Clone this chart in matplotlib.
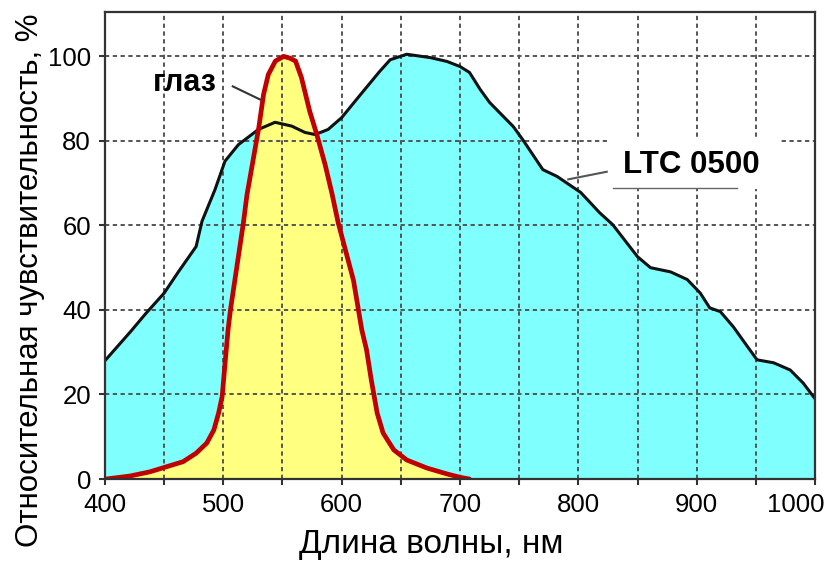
import numpy as np
import matplotlib.pyplot as plt
import matplotlib.transforms as mtransforms
from matplotlib.patches import Rectangle

plt.rcParams['font.family'] = ['Liberation Sans', 'DejaVu Sans']

# спектральная чувствительность камеры LTC 0500
wl_ltc = [400, 422, 434, 450, 462, 477, 482, 493, 501.4, 512.7, 529.6, 543.7, 557.8, 569, 577.5,
          588.5, 600, 614, 632, 641, 655, 675, 689, 700, 708, 717, 725, 745, 753, 770, 782,
          802, 818, 829, 850, 861, 878, 892, 903, 911, 920, 931, 943, 951, 965, 979,
          990, 1000]
ltc = [28, 35, 39, 44, 49, 55, 61, 68.5, 75.2, 79.1, 82.7, 84.4, 83.5, 82, 81.5,
       82.7, 85.5, 90.3, 96.4, 99.2, 100.5, 99.7, 98.8, 97.6, 96.2, 92.2, 89.1, 83.4, 80.3, 73.2, 71.6,
       67.8, 63, 60.2, 52.6, 50, 49, 47.2, 44, 40.5, 39.6, 36, 31.3, 28.2, 27.5, 25.8,
       22.7, 19]

# чувствительность глаза
wl_eye = [401, 421, 438, 452, 466, 477, 486, 492, 496, 499, 501.5, 503, 504, 506, 517,
          520, 525, 530, 534, 538, 544, 551, 556, 561, 566, 573, 579, 586, 592, 597,
          610, 617, 621, 625, 630, 635, 644, 655, 672, 689, 700, 708]
eye = [0, 0.7, 1.7, 2.9, 4.1, 6.1, 8.5, 11.6, 15.6, 19.5, 27.5, 32.2, 35.3, 40, 60.7,
       67.3, 75.2, 83.2, 91, 95.7, 98.9, 100, 99.6, 98.9, 95, 87, 81.5, 74.4, 67.3, 60.7,
       47, 35.3, 30.6, 23.5, 15.6, 10.9, 6.9, 4.5, 2.6, 1.2, 0.4, 0]

x_ticks = [400, 500, 600, 700, 800, 900, 1000]
y_ticks = [0, 20, 40, 60, 80, 100]

fig = plt.figure(figsize=(8.26, 5.63), dpi=100)
ax = fig.add_axes([0.1271, 0.1492, 0.8596, 0.8295])

ax.fill_between(wl_ltc, ltc, 0, color='#80FFFF', lw=0, zorder=1)
ax.fill_between(wl_eye, eye, 0, color='#FFFF80', lw=0, zorder=1.1)
ax.plot(wl_ltc, ltc, color='#111111', lw=2.2, zorder=2)
ax.plot(wl_eye, eye, color='#C00000', lw=3.4, zorder=2.5, solid_capstyle='round',
        solid_joinstyle='round')

ax.set_xlim(400, 1000)
ax.set_ylim(0, 110.5)
ax.set_xticks(x_ticks)
ax.set_xticks(np.arange(450, 1000, 100), minor=True)
ax.set_yticks(y_ticks)
ax.tick_params(axis='both', which='both', direction='out', length=4, width=1.5,
               color='#333333', labelsize=18.5, pad=6)
ax.grid(True, which='both', color='#555555', lw=1.4, ls=(0, (2.2, 1.8)))

# последняя подпись "1000" сдвинута влево, как в оригинале
lbl = ax.get_xticklabels()[-1]
lbl.set_transform(lbl.get_transform() + mtransforms.ScaledTranslation(-19 / 100, 0, fig.dpi_scale_trans))

for s in ax.spines.values():
    s.set_color('#333333')
    s.set_linewidth(1.6)

# подписи кривых
ax.text(467.6, 91.7, 'глаз', fontsize=22, fontweight='bold', ha='center', va='baseline')
ax.plot([508, 531], [92.9, 89.8], color='#333333', lw=1.5, zorder=3)

ax.add_patch(Rectangle((824, 68.5), 146, 12.5, facecolor='white', edgecolor='none', zorder=3))
ax.text(837.9, 72.5, 'LTC 0500', fontsize=22.5, fontweight='bold', ha='left', va='baseline', zorder=4)
ax.plot([829, 934], [68.8, 68.8], color='#666666', lw=1, zorder=4)
ax.plot([824, 791.5], [72.7, 70.9], color='#555555', lw=1.5, zorder=4)

fig.text(0.5218, 0.032, 'Длина волны, нм', fontsize=24, ha='center', va='center')
fig.text(0.036, 0.5027, 'Относительная чувствительность, %', fontsize=22.5,
         rotation=90, ha='center', va='center')

fig.savefig('out.png', dpi=100)
